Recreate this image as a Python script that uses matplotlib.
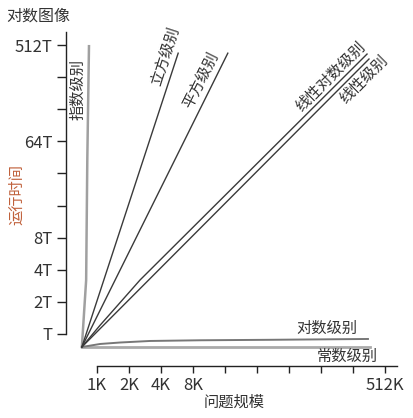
import matplotlib
matplotlib.use("Agg")
from matplotlib import pyplot as plt

plt.rcParams['font.family'] = ['Noto Sans CJK SC', 'DejaVu Sans']

# tick values (K = problem size, T = running time)
x_ticks = [1, 2, 4, 8, 16, 32, 64, 128, 256, 512]
x_labels = ["1K", "2K", "4K", "8K", "", "", "", "", "", "512K"]
y_ticks = [1, 2, 4, 8, 16, 32, 64, 128, 256, 512]
y_labels = ["T", "2T", "4T", "8T", "", "", "64T", "", "", "512T"]

# curves (x in K, y in T)
exp_x = [0.72, 0.79, 0.81, 0.84]
exp_y = [0.755, 3.2, 43.0, 500.0]
cubic_x = [0.72, 5.8]
cubic_y = [0.755, 430.0]
quad_x = [0.72, 17.0]
quad_y = [0.755, 430.0]
nlogn_x = [0.72, 1.07, 2.54, 347.0]
nlogn_y = [0.755, 1.21, 3.21, 422.0]
lin_x = [0.72, 362.0]
lin_y = [0.755, 379.0]
log_x = [0.72, 1.07, 1.65, 3.15, 9.3, 42.4, 354.0]
log_y = [0.755, 0.806, 0.832, 0.86, 0.873, 0.882, 0.898]
const_x = [0.72, 370.0]
const_y = [0.755, 0.755]

fig = plt.figure(figsize=(4.14, 4.18), dpi=100)
ax = fig.add_axes([0.1594, 0.1242, 0.8169, 0.8063])

ax.plot(const_x, const_y, color="#aaaaaa", lw=2)
ax.plot(log_x, log_y, color="#777777", lw=1.4)
ax.plot(exp_x, exp_y, color="#a0a0a0", lw=1.8)
ax.plot(cubic_x, cubic_y, color="#3a3a3a", lw=1)
ax.plot(quad_x, quad_y, color="#3a3a3a", lw=1)
ax.plot(nlogn_x, nlogn_y, color="#3a3a3a", lw=1)
ax.plot(lin_x, lin_y, color="#3a3a3a", lw=1)

ax.set_xscale("log", base=2)
ax.set_yscale("log", base=2)
ax.set_xlim(2 ** -0.97, 2 ** 9.6)
ax.set_ylim(2 ** -1.0, 2 ** 9.5)

ax.set_xticks(x_ticks)
ax.set_xticklabels(x_labels)
ax.set_yticks(y_ticks)
ax.set_yticklabels(y_labels)
ax.minorticks_off()

for s in ["top", "right"]:
    ax.spines[s].set_visible(False)
ax.spines["left"].set_bounds(1, 2 ** 9.41)
ax.spines["bottom"].set_bounds(1, 2 ** 9.375)
for s in ["left", "bottom"]:
    ax.spines[s].set_color("#222222")
    ax.spines[s].set_linewidth(1.0)
ax.tick_params(axis="y", length=6.5, width=1, color="#222222", labelsize=12, labelcolor="#333333", pad=3)
ax.tick_params(axis="x", length=5, width=1, color="#222222", labelsize=12, labelcolor="#333333", pad=3)

tc = "#333333"
ax.text(0.662, 198, "指数级别", rotation=90, ha="center", va="center", fontsize=11, color=tc)
ax.text(4.36, 404, "立方级别", rotation=72, ha="center", va="center", fontsize=11, color=tc)
ax.text(9.51, 241, "平方级别", rotation=63.4, ha="center", va="center", fontsize=11, color=tc)
ax.text(159, 257, "线性对数级别", rotation=45, ha="center", va="center", fontsize=11, color=tc)
ax.text(324, 246, "线性级别", rotation=45, ha="center", va="center", fontsize=11, color=tc)
ax.text(146, 1.14, "对数级别", ha="center", va="center", fontsize=11, color=tc)
ax.text(224, 0.622, "常数级别", ha="center", va="center", fontsize=11, color=tc)

fig.text(38 / 414, 1 - 16 / 418, "对数图像", ha="center", va="center", fontsize=11.5, color=tc)
fig.text(17 / 414, 1 - 195 / 418, "运行时间", rotation=90, ha="center", va="center", fontsize=11, color="#c0603a")
fig.text(234 / 414, 1 - 402 / 418, "问题规模", ha="center", va="center", fontsize=11, color=tc)

fig.savefig("out.png", dpi=100)
